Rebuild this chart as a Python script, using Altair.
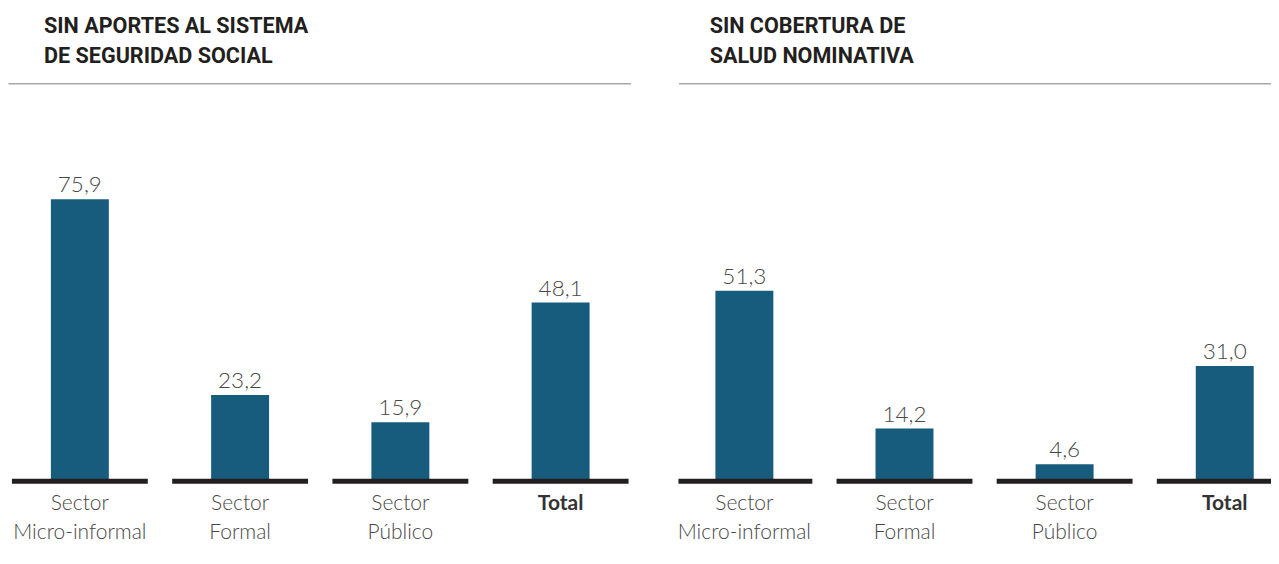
import altair as alt
import pandas as pd

categories = ["Sector\nMicro-informal", "Sector\nFormal", "Sector\nPúblico", "Total"]
aportes = [75.9, 23.2, 15.9, 48.1]
salud = [51.3, 14.2, 4.6, 31.0]
title_left = ["SIN APORTES AL SISTEMA", "DE SEGURIDAD SOCIAL"]
title_right = ["SIN COBERTURA DE", "SALUD NOMINATIVA"]

BAR = "#175c7d"
DARK = "#231f20"
TEXT = "#474747"
PX = 3.72            # pixels per percentage point
ABOVE = 398.5        # px from baseline to top rule
BELOW = 62           # px below baseline kept inside the plot
YMAX = ABOVE / PX
YMIN = -BELOW / PX
PLOT_H = ABOVE + BELOW
STEP = 163


def panel(values, title, width, first_center, title_dx):
    df = pd.DataFrame({"cat": categories, "value": values,
                       "pos": list(range(len(categories))),
                       "zero": [0.0] * len(categories)})
    base = alt.Chart(df)
    xaxis = alt.Axis(orient="top", labels=False, ticks=False, grid=False,
                     title=None, domainColor="#a8a8a8", domainWidth=1.5)
    x = alt.X("pos:Q", axis=xaxis,
              scale=alt.Scale(domain=[-first_center / STEP,
                                      (width - first_center) / STEP],
                              nice=False, zero=False))
    yscale = alt.Scale(domain=[YMIN, YMAX], nice=False, zero=False)
    y = alt.Y("value:Q", axis=None, scale=yscale)
    y0 = alt.Y("zero:Q", axis=None, scale=yscale)

    bars = base.mark_bar(size=58, color=BAR, clip=True).encode(
        x=x, y=y, y2="zero:Q")
    ticks = base.mark_tick(size=136, thickness=5, color=DARK, opacity=1,
                           orient="horizontal", clip=True).encode(x=x, y=y0)
    vals = base.transform_calculate(
        label="replace(format(datum.value, '.1f'), '.', ',')"
    ).mark_text(font="Lato", fontWeight=300, fontSize=22.5, color=TEXT,
                baseline="alphabetic", dy=-7).encode(x=x, y=y, text="label:N")
    cats = base.transform_filter("datum.cat != 'Total'").mark_text(
        font="Lato", fontWeight=300, fontSize=21, color=TEXT, lineBreak="\n",
        lineHeight=29, baseline="alphabetic", dy=29
    ).encode(x=x, y=y0, text="cat:N")
    total = base.transform_filter("datum.cat == 'Total'").mark_text(
        font="Lato", fontWeight="bold", fontSize=21, color="#333333",
        baseline="alphabetic", dy=29
    ).encode(x=x, y=y0, text="cat:N")

    return alt.layer(bars, ticks, vals, cats, total).properties(
        width=width,
        height=PLOT_H,
        title=alt.TitleParams(text=title, anchor="start", dx=title_dx,
                              font="Roboto", fontSize=21.6, lineHeight=29.5,
                              offset=16, color=DARK),
    )


left = panel(aportes, title_left, 623, 68, 36)
right = panel(salud, title_right, 593, 62, 32)

chart = alt.hconcat(left, right, spacing=47).properties(
    padding={"top": 7, "bottom": 0, "left": 0, "right": 0}
).configure_view(strokeWidth=0)

chart.save("out.html", embed_options={"renderer": "svg", "actions": False})
